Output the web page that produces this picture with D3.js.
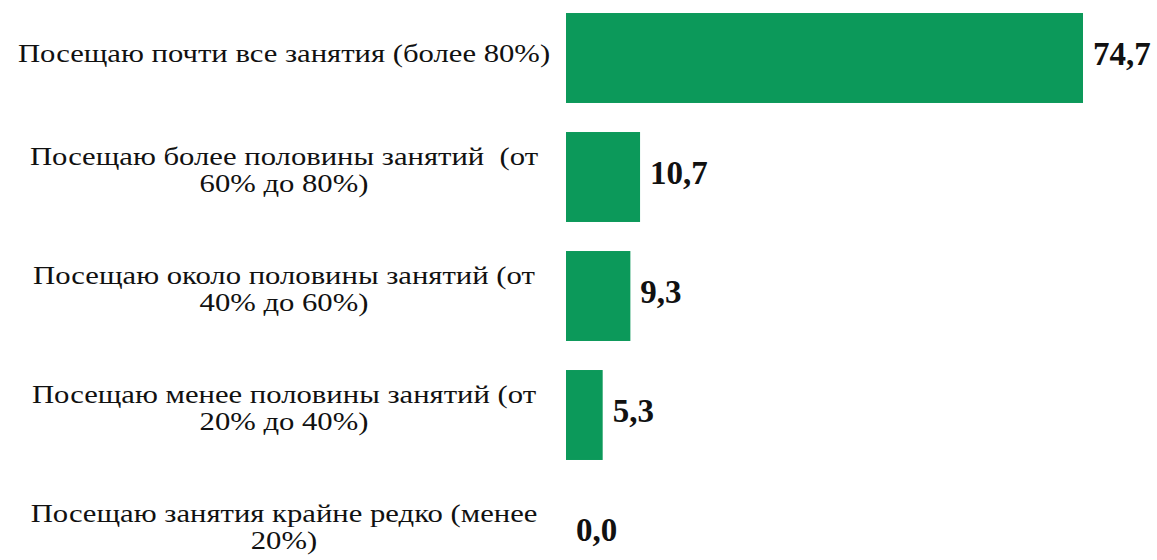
<!DOCTYPE html>
<html>
<head>
<meta charset="utf-8">
<script src="https://cdn.jsdelivr.net/npm/d3@7"></script>
<style>
  html, body { margin: 0; padding: 0; background: #fff; }
  svg { display: block; }
</style>
</head>
<body>
<script>
// categories, line breaks as in the source picture
var categories = [
  'Посещаю почти все занятия (более 80%)',
  'Посещаю более половины занятий  (от\n60% до 80%)',
  'Посещаю около половины занятий (от\n40% до 60%)',
  'Посещаю менее половины занятий (от\n20% до 40%)',
  'Посещаю занятия крайне редко (менее\n20%)'
];
var values = [74.7, 10.7, 9.3, 5.3, 0.0];

var width = 1157,
  height = 560,
  barLeft = 566,
  labelCenter = 284,
  serif = '"Liberation Serif", "Times New Roman", "DejaVu Serif", serif',
  fmt = function(v) { return v.toFixed(1).replace('.', ','); };

var svg = d3.select('body').append('svg')
  .attr('width', width)
  .attr('height', height);

var x = d3.scaleLinear()
  .domain([0, 74.7])
  .range([barLeft, 1083]);

var y = d3.scaleBand()
  .domain(categories)
  .range([-1.5, 593.5])
  .paddingInner(0.244)
  .paddingOuter(0.122);

var rows = svg.selectAll('g.row')
  .data(categories)
  .enter().append('g')
  .attr('class', 'row');

rows.append('rect')
  .attr('x', x(0))
  .attr('y', function(d) { return y(d); })
  .attr('width', function(d, i) { return x(values[i]) - x(0); })
  .attr('height', y.bandwidth())
  .attr('fill', '#0c995a');

rows.append('text')
  .attr('x', function(d, i) { return x(values[i]) + 10; })
  .attr('y', function(d) { return y(d) + y.bandwidth() / 2 + 7; })
  .attr('font-family', serif)
  .attr('font-weight', 'bold')
  .attr('font-size', 33)
  .attr('fill', '#111')
  .text(function(d, i) { return fmt(values[i]); });

// labels: text in the picture is a bit wider than plain Times, so stretch it
var stretch = 1.18;
rows.each(function(d) {
  var lines = d.split('\n'),
    lh = 27,
    cy = y(d) + y.bandwidth() / 2,
    t = d3.select(this).append('text')
      .attr('text-anchor', 'middle')
      .attr('transform', 'translate(' + labelCenter + ',0) scale(' + stretch + ',1)')
      .attr('font-family', serif)
      .attr('font-size', 26)
      .attr('fill', '#111')
      .style('white-space', 'pre');
  lines.forEach(function(line, k) {
    t.append('tspan')
      .attr('x', 0)
      .attr('y', cy + (lines.length > 1 ? 2 : 4) + (k - (lines.length - 1) / 2) * lh)
      .text(line);
  });
});
</script>
</body>
</html>
